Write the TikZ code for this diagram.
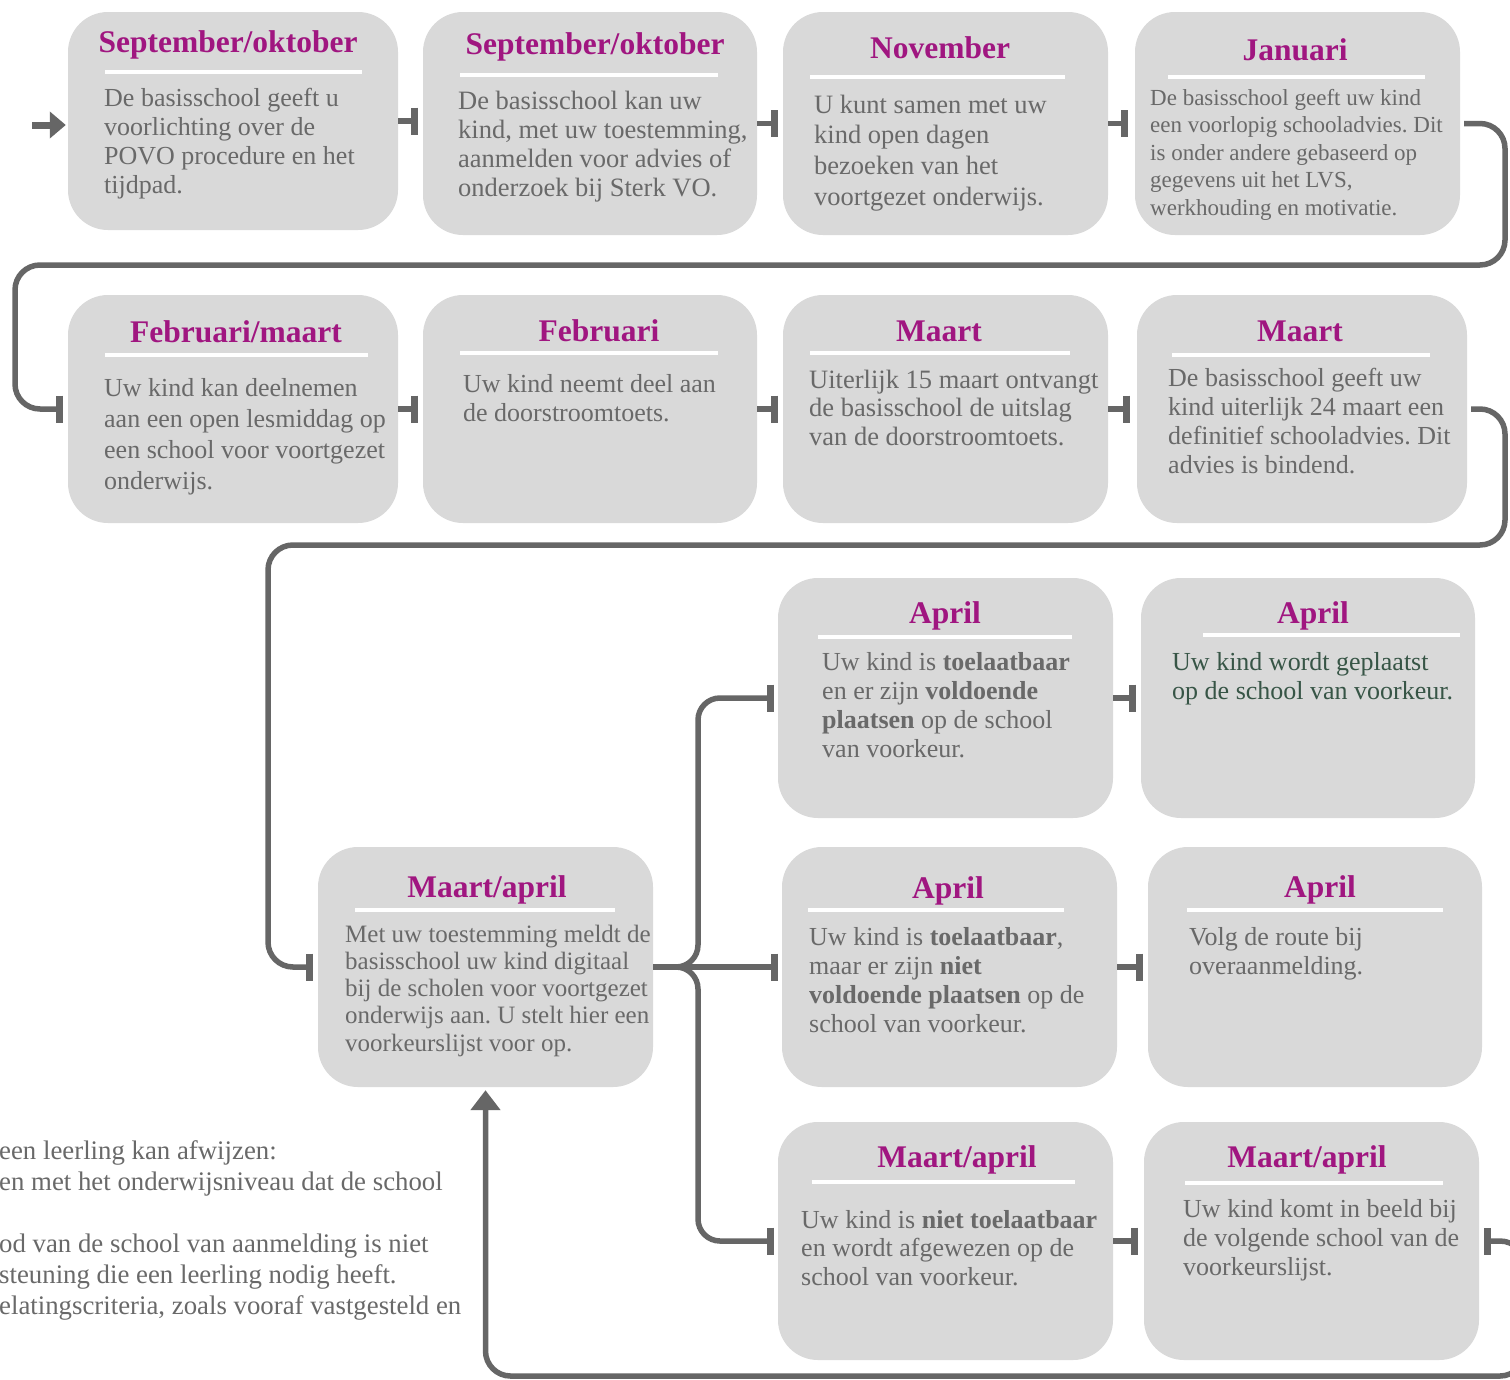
\documentclass[tikz,border=0pt]{standalone}
\usepackage{fontspec}
\setmainfont{Liberation Serif}
\usetikzlibrary{arrows.meta}
\frenchspacing
\definecolor{boxgray}{RGB}{217,217,217}
\definecolor{titlemag}{RGB}{160,22,128}
\definecolor{bodygray}{RGB}{105,105,105}
\definecolor{conngray}{RGB}{102,102,102}
\definecolor{darkgreen}{RGB}{55,85,70}
\tikzset{
  box/.style={fill=boxgray, draw=none, rounded corners=40pt, inner sep=0pt},
  ttl/.style={anchor=base, inner sep=0pt, text=titlemag, font=\fontsize{31.5}{36}\selectfont\bfseries},
  wline/.style={draw=white, line width=4pt},
  conn/.style={draw=conngray, line width=5.5pt},
  tbar/.style={conn, -{Bar[width=27pt,line width=7pt]}},
  wrap/.style={conn, rounded corners=25pt, -{Bar[width=27pt,line width=7pt]}},
}
\newcommand\mybox[5]{\node[box, minimum width={(#4-#2)*1pt}, minimum height={(#5-#3)*1pt}] (#1) at ({(#2+#4)/2},{(#3+#5)/2}) {};}
\newcommand\myttl[4]{\node[ttl] (#1) at (#2,#3) {#4};}
\newcommand\myrule[3]{\draw[wline] (#1,#3) -- (#2,#3);}
\newcommand\mytext[6]{\node[anchor=base west, inner sep=0pt, text=bodygray] (#1) at (#2,#3) {\fontsize{#4}{#5}\selectfont\parbox[t]{600pt}{\raggedright #6}};}
\begin{document}
\begin{tikzpicture}[x=1pt,y=-1pt]
\useasboundingbox (0,0) rectangle (1510,1379);
\fill[white] (0,0) rectangle (1510,1379);

% boxes
\mybox{b1}{68}{12}{398}{230}
\mybox{b2}{423}{12}{757}{235}
\mybox{b3}{783}{12}{1108}{235}
\mybox{b4}{1135}{12}{1460}{235}
\mybox{b5}{68}{295}{398}{523}
\mybox{b6}{423}{295}{757}{523}
\mybox{b7}{783}{295}{1108}{523}
\mybox{b8}{1137}{295}{1467}{523}
\mybox{b9}{318}{847}{653}{1087}
\mybox{b10}{778}{578}{1113}{818}
\mybox{b11}{1141}{578}{1475}{818}
\mybox{b12}{782}{847}{1117}{1087}
\mybox{b13}{1148}{847}{1482}{1087}
\mybox{b14}{778}{1122}{1113}{1360}
\mybox{b15}{1144}{1122}{1479}{1360}

% titles
\myttl{t1}{228}{52}{September/oktober}
\myttl{t2}{595}{54}{September/oktober}
\myttl{t3}{940}{58}{November}
\myttl{t4}{1295}{60}{Januari}
\myttl{t5}{236}{342}{Februari/maart}
\myttl{t6}{599}{341}{Februari}
\myttl{t7}{939}{341}{Maart}
\myttl{t8}{1300}{341}{Maart}
\myttl{t9}{487}{897}{Maart/april}
\myttl{t10}{945}{623}{April}
\myttl{t11}{1313}{623}{April}
\myttl{t12}{948}{898}{April}
\myttl{t13}{1320}{897}{April}
\myttl{t14}{957}{1167}{Maart/april}
\myttl{t15}{1307}{1167}{Maart/april}

% white rules
\myrule{105}{362}{72}
\myrule{460}{718}{75}
\myrule{810}{1065}{77}
\myrule{1168}{1425}{77}
\myrule{105}{368}{355}
\myrule{460}{718}{353}
\myrule{810}{1070}{353}
\myrule{1172}{1430}{355}
\myrule{355}{615}{910}
\myrule{818}{1072}{637}
\myrule{1203}{1460}{635}
\myrule{808}{1064}{910}
\myrule{1187}{1443}{910}
\myrule{812}{1075}{1182}
\myrule{1185}{1443}{1183}

% body texts
\mytext{x1}{104}{106}{26}{29}{De basisschool geeft u\\ voorlichting over de\\ POVO procedure en het\\ tijdpad.}
\mytext{x2}{458}{109}{26.5}{29.3}{De basisschool kan uw\\ kind, met uw toestemming,\\ aanmelden voor advies of\\ onderzoek bij Sterk VO.}
\mytext{x3}{814}{113}{26.5}{30.7}{U kunt samen met uw\\ kind open dagen\\ bezoeken van het\\ voortgezet onderwijs.}
\mytext{x4}{1150}{105}{23}{27.5}{De basisschool geeft uw kind\\ een voorlopig schooladvies. Dit\\ is onder andere gebaseerd op\\ gegevens uit het LVS,\\ werkhouding en motivatie.}
\mytext{x5}{104}{396}{26}{31.3}{Uw kind kan deelnemen\\ aan een open lesmiddag op\\ een school voor voortgezet\\ onderwijs.}
\mytext{x6}{463}{392}{26}{29}{Uw kind neemt deel aan\\ de doorstroomtoets.}
\mytext{x7}{809}{388}{26.5}{28.5}{Uiterlijk 15 maart ontvangt\\ de basisschool de uitslag\\ van de doorstroomtoets.}
\mytext{x8}{1168}{386}{26}{29}{De basisschool geeft uw\\ kind uiterlijk 24 maart een\\ definitief schooladvies. Dit\\ advies is bindend.}
\mytext{x9}{345}{942}{25}{27.25}{Met uw toestemming meldt de\\ basisschool uw kind digitaal\\ bij de scholen voor voortgezet\\ onderwijs aan. U stelt hier een\\ voorkeurslijst voor op.}
\mytext{x10}{822}{670}{26}{29}{Uw kind is \textbf{toelaatbaar}\\ en er zijn \textbf{voldoende}\\ \textbf{plaatsen} op de school\\ van voorkeur.}
\node[anchor=base west, inner sep=0pt, text=darkgreen] (x11) at (1172,670) {\fontsize{26}{29}\selectfont\parbox[t]{600pt}{\raggedright Uw kind wordt geplaatst\\ op de school van voorkeur.}};
\mytext{x12}{809}{945}{26}{29}{Uw kind is \textbf{toelaatbaar},\\ maar er zijn \textbf{niet}\\ \textbf{voldoende plaatsen} op de\\ school van voorkeur.}
\mytext{x13}{1189}{945}{26}{29}{Volg de route bij\\ overaanmelding.}
\mytext{x14}{801}{1228}{26}{28.5}{Uw kind is \textbf{niet toelaatbaar}\\ en wordt afgewezen op de\\ school van voorkeur.}
\mytext{x15}{1183}{1217}{26}{29}{Uw kind komt in beeld bij\\ de volgende school van de\\ voorkeurslijst.}

% footnote text (cut off at left)
\mytext{fn}{-1}{1159}{26.8}{31}{een leerling kan afwijzen:\\ en met het onderwijsniveau dat de school\\[31pt] od van de school van aanmelding is niet\\ steuning die een leerling nodig heeft.\\ elatingscriteria, zoals vooraf vastgesteld en}

% connectors
\coordinate (s0) at (32,125);
\draw[conn, line width=7pt, -{Triangle[width=26pt,length=16pt]}] (s0) -- ([xshift=-2pt,yshift=-4pt]b1.west);
\draw[tbar] (b1.east) -- ++(20,0);
\draw[tbar] (b2.east) -- ++(21,0);
\draw[tbar] (b3.east) -- ++(20,0);
\draw[wrap] ([xshift=4pt]b4.east) -| (1505,265) -- (15,265) |- ([xshift=-5pt]b5.west);
\draw[tbar] (b5.east) -- ++(20,0);
\draw[tbar] (b6.east) -- ++(21,0);
\draw[tbar] (b7.east) -- ++(22,0);
\draw[wrap] ([xshift=4pt]b8.east) -| (1505,545) -- (268,545) |- ([xshift=-5pt]b9.west);
\coordinate (jn) at (698,967);
\draw[tbar] (b9.east) -- ([xshift=-4pt]b12.west);
\draw[conn, rounded corners=22pt, -{Bar[width=27pt,line width=7pt]}] (b9.east) -- (jn) |- ([xshift=-4pt]b10.west);
\draw[conn, rounded corners=22pt, -{Bar[width=27pt,line width=7pt]}] (b9.east) -- (jn) |- ([xshift=-4pt]b14.west);
\draw[tbar] (b10.east) -- ++(23,0);
\draw[tbar] (b12.east) -- ++(26,0);
\draw[tbar] (b14.east) -- ++(25,0);
\draw[conn, rounded corners=25pt, {Bar[width=27pt,line width=7pt]}-{Triangle[width=29pt,length=20pt]}] ([xshift=5pt]b15.east) -| (1525,1376) -| ([yshift=-3pt]b9.south);
\end{tikzpicture}
\end{document}
